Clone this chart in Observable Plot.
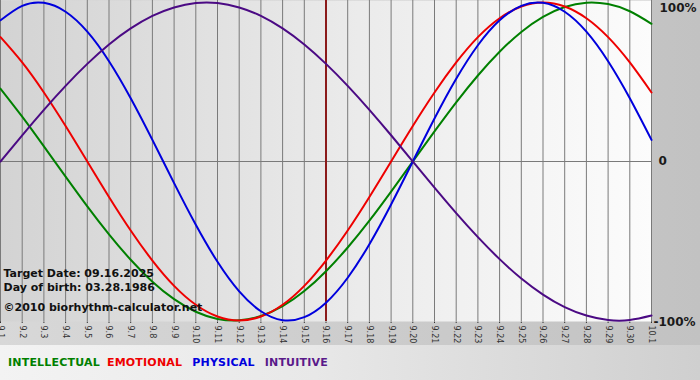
<!DOCTYPE html>
<html>
<head>
<meta charset="utf-8">
<script src="https://cdn.jsdelivr.net/npm/d3@7"></script>
<script src="https://cdn.jsdelivr.net/npm/@observablehq/plot@0.6"></script>
<style>
  html, body { margin: 0; padding: 0; }
  body { width: 700px; height: 380px; overflow: hidden; background: #c4c4c4; font-family: "DejaVu Sans", Verdana, sans-serif; }
  #chart { position: relative; height: 345px; background: linear-gradient(to right, #d8d8d8, #c2c2c2); }
  #chart svg { display: block; }
  #legend { height: 35px; line-height: 35px; padding-left: 8px; font-size: 11px; font-weight: bold; letter-spacing: 0.2px;
            background: linear-gradient(to right, #f3f3f3 0%, #e8e8e8 45%, #cfcfcf 100%); white-space: nowrap; }
  #legend span { margin-right: 10px; }
  #legend span:first-child { margin-right: 7px; }
</style>
</head>
<body>
<div id="chart"></div>
<div id="legend"></div>
<script>
// ---- data ----
const dayLabels = ["9.1","9.2","9.3","9.4","9.5","9.6","9.7","9.8","9.9","9.10","9.11","9.12","9.13","9.14","9.15","9.16",
  "9.17","9.18","9.19","9.20","9.21","9.22","9.23","9.24","9.25","9.26","9.27","9.28","9.29","9.30","10.1"];
const intellectual = [0.458,0.282,0.095,-0.095,-0.282,-0.458,-0.618,-0.756,-0.866,-0.945,-0.990,-0.999,-0.972,-0.910,-0.815,-0.690,
  -0.541,-0.372,-0.189,0,0.189,0.372,0.541,0.690,0.815,0.910,0.972,0.999,0.990,0.945,0.866];
const emotional = [0.782,0.623,0.434,0.223,0,-0.223,-0.434,-0.623,-0.782,-0.901,-0.975,-1,-0.975,-0.901,-0.782,-0.623,
  -0.434,-0.223,0,0.223,0.434,0.623,0.782,0.901,0.975,1,0.975,0.901,0.782,0.623,0.434];
const physical = [0.888,0.979,0.998,0.942,0.817,0.631,0.398,0.136,-0.136,-0.398,-0.631,-0.817,-0.942,-0.998,-0.979,-0.888,
  -0.731,-0.520,-0.270,0,0.270,0.520,0.731,0.888,0.979,0.998,0.942,0.817,0.631,0.398,0.136];
const intuitive = [0,0.165,0.325,0.476,0.614,0.736,0.837,0.916,0.969,0.997,0.997,0.969,0.916,0.837,0.736,0.614,
  0.476,0.325,0.165,0,-0.165,-0.325,-0.476,-0.614,-0.736,-0.837,-0.916,-0.969,-0.997,-0.997,-0.969];
const seriesNames = ["INTELLECTUAL","EMOTIONAL","PHYSICAL","INTUITIVE"];
const seriesColors = ["#008000","#ee0000","#0000dd","#4b0a84"];
const yTickValues = [1, 0, -1];
const yTickLabels = ["100%", "0", "-100%"];
const targetLabel = "9.16";
const infoLines = ["Target Date: 09.16.2025", "Day of birth: 03.28.1986", "©2010 biorhythm-calculator.net"];

// ---- build ----
const dayIdx = dayLabels.map((_, i) => i);
const targetIdx = dayLabels.indexOf(targetLabel);
const seriesValues = [intellectual, emotional, physical, intuitive];
const rows = seriesValues.map((vals, s) => vals.map((v, i) => ({series: seriesNames[s], i, v})));

const lineMarks = rows.map((r, s) =>
  Plot.line(r, {x: "i", y: "v", stroke: seriesColors[s], strokeWidth: 2, curve: "natural"}));

const svg = Plot.plot({
  width: 700,
  height: 345,
  marginLeft: 0,
  marginRight: 49,
  marginTop: 0,
  marginBottom: 24,
  style: {background: "transparent", fontFamily: "DejaVu Sans, Verdana, sans-serif", fontSize: "8px", color: "#333"},
  x: {domain: [0, dayLabels.length - 1], ticks: dayIdx, tickFormat: i => dayLabels[i], tickRotate: 90,
      tickSize: 2, tickPadding: 2, label: null, line: false},
  y: {domain: [-1, 1], axis: null, insetTop: 2, insetBottom: 1},
  marks: [
    Plot.frame({fill: "url(#plotbg)"}),
    Plot.ruleX(dayIdx, {stroke: "#7a7a7a", strokeWidth: 1}),
    Plot.ruleY([0], {stroke: "#7a7a7a", strokeWidth: 1}),
    Plot.ruleX([targetIdx], {stroke: "#8b1a1a", strokeWidth: 2}),
    ...lineMarks,
    Plot.text([0], {y: yTickValues[0], text: () => yTickLabels[0], frameAnchor: "right", textAnchor: "start", dx: 8, dy: 1,
      lineAnchor: "top", fontWeight: "bold", fontSize: 12, fill: "#1a1a1a"}),
    Plot.text([1], {y: yTickValues[1], text: () => yTickLabels[1], frameAnchor: "right", textAnchor: "start", dx: 7,
      lineAnchor: "middle", fontWeight: "bold", fontSize: 12, fill: "#1a1a1a"}),
    Plot.text([2], {y: yTickValues[2], text: () => yTickLabels[2], frameAnchor: "right", textAnchor: "start", dx: 2, dy: 2,
      lineAnchor: "middle", fontWeight: "bold", fontSize: 12, fill: "#1a1a1a"}),
    Plot.text([infoLines[0]], {text: d => d, frameAnchor: "bottom-left", textAnchor: "start", lineAnchor: "bottom",
      dx: 3, dy: -45, fontWeight: "bold", fontSize: 11, fill: "#111"}),
    Plot.text([infoLines[1]], {text: d => d, frameAnchor: "bottom-left", textAnchor: "start", lineAnchor: "bottom",
      dx: 3, dy: -31, fontWeight: "bold", fontSize: 11, fill: "#111"}),
    Plot.text([infoLines[2]], {text: d => d, frameAnchor: "bottom-left", textAnchor: "start", lineAnchor: "bottom",
      dx: 3, dy: -11, fontWeight: "bold", fontSize: 11, fill: "#111"})
  ]
});

// gradient definition for plot background
const ns = "http://www.w3.org/2000/svg";
const defs = document.createElementNS(ns, "defs");
defs.innerHTML = '<linearGradient id="plotbg" x1="0" x2="1" y1="0" y2="0">' +
  '<stop offset="0%" stop-color="#d3d3d3"/><stop offset="55%" stop-color="#ebebeb"/><stop offset="100%" stop-color="#fcfcfc"/></linearGradient>';
svg.insertBefore(defs, svg.firstChild);
document.getElementById("chart").appendChild(svg);

// legend
const legend = document.getElementById("legend");
seriesNames.forEach((name, s) => {
  const span = document.createElement("span");
  span.textContent = name;
  span.style.color = seriesColors[s] === "#4b0a84" ? "#5a1a8a" : seriesColors[s];
  legend.appendChild(span);
});
</script>
</body>
</html>
